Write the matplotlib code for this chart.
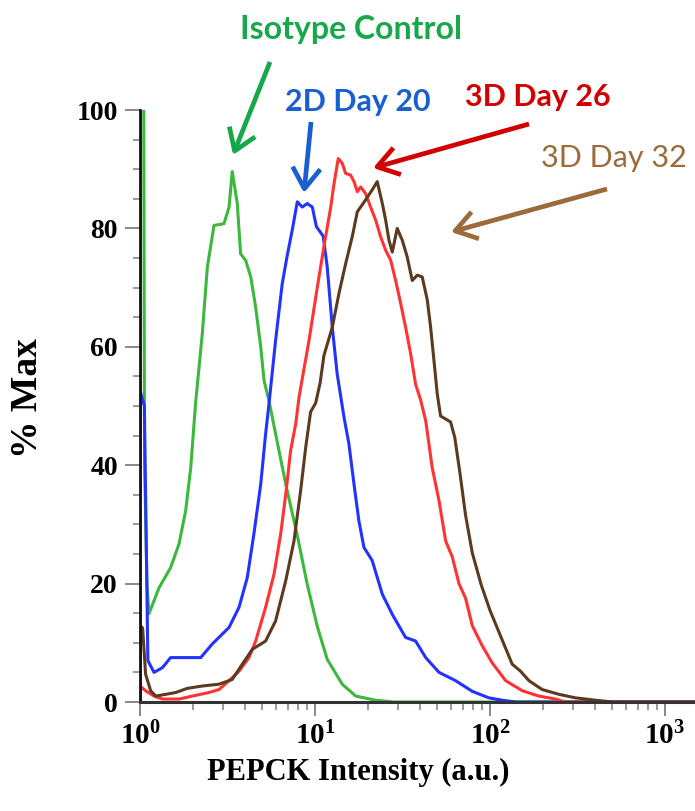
import numpy as np
import matplotlib
matplotlib.use("Agg")
import matplotlib.pyplot as plt
from matplotlib.ticker import FixedLocator, FixedFormatter, NullFormatter

# ---------------- data (x given as log10 of PEPCK intensity) ----------------
iso_log10 = [0.0, 0.0, 0.02, 0.026, 0.04, 0.051, 0.109, 0.175, 0.223, 0.261, 0.29, 0.318,
             0.356, 0.385, 0.423, 0.48, 0.509, 0.527, 0.556, 0.575, 0.604, 0.633,
             0.661, 0.69, 0.709, 0.737, 0.775, 0.833, 0.90, 0.955, 1.013, 1.07,
             1.156, 1.233, 1.347, 1.45, 3.2]
iso_pct = [0, 120, 120, 40, 20, 14.9, 19.3, 22.7, 26.7, 32.3, 39.6, 50.6,
           62.2, 73.5, 80.5, 80.8, 83.6, 89.6, 84.2, 75.7, 74.6, 71.8,
           66.7, 60.0, 54.3, 50.9, 45.3, 36.8, 28.0, 20.0, 12.8, 7.2,
           3.0, 1.0, 0.3, 0, 0]

d20_log10 = [0.0, 0.0, 0.025, 0.045, 0.08, 0.128, 0.175, 0.347, 0.413, 0.509, 0.566,
             0.613, 0.651, 0.69, 0.718, 0.737, 0.775, 0.813, 0.842, 0.87, 0.899,
             0.927, 0.956, 0.985, 1.008, 1.047, 1.07, 1.099, 1.127, 1.166, 1.194,
             1.223, 1.251, 1.28, 1.327, 1.385, 1.442, 1.518, 1.575, 1.633, 1.709,
             1.804, 1.899, 1.994, 2.07, 2.15, 3.2]
d20_pct = [0, 52.6, 50, 7, 5.0, 5.8, 7.5, 7.5, 9.8, 12.6, 16.0,
           21.0, 28.4, 36.8, 45.3, 50.3, 61.1, 70.7, 75.5, 79.7, 84.5,
           83.6, 84.2, 83.6, 80.3, 78.7, 73.5, 63.3, 55.4, 48.1, 43.6,
           36.8, 30.6, 26.1, 23.9, 18.2, 14.8, 10.9, 10.3, 7.5, 5.0,
           3.6, 1.8, 0.7, 0.3, 0, 0]

d26_log10 = [0.0, 0.032, 0.08, 0.128, 0.223, 0.299, 0.394, 0.451, 0.509, 0.566,
             0.623, 0.661, 0.718, 0.766, 0.804, 0.833, 0.861, 0.89, 0.909, 0.966,
             1.013, 1.051, 1.09, 1.109, 1.133, 1.156, 1.175, 1.204, 1.223, 1.242,
             1.261, 1.289, 1.318, 1.347, 1.375, 1.404, 1.433, 1.461, 1.49, 1.518,
             1.547, 1.575, 1.604, 1.633, 1.67, 1.709, 1.747, 1.785, 1.823, 1.861,
             1.899, 1.956, 2.013, 2.09, 2.185, 2.28, 2.375, 2.43, 3.2]
d26_pct = [2.7, 1.9, 1.0, 0.5, 0.5, 1.0, 1.6, 2.1, 3.6, 5.2,
           7.5, 10.3, 16.0, 21.6, 28.4, 35.1, 42.5, 47.0, 51.5, 61.1,
           70.0, 76.9, 83.6, 87.6, 91.8, 91.0, 89.3, 89.0, 87.9, 86.2,
           87.0, 85.9, 83.6, 81.4, 78.6, 76.3, 74.6, 71.2, 67.3, 63.3,
           58.8, 53.7, 51.0, 47.5, 39.6, 34.0, 27.2, 24.5, 20.0, 17.5,
           12.9, 9.5, 6.6, 3.6, 1.9, 1.0, 0.5, 0, 0]

d32_log10 = [0.0, 0.0, 0.015, 0.032, 0.061, 0.09, 0.147, 0.204, 0.27, 0.356, 0.451,
             0.527, 0.585, 0.642, 0.718, 0.775, 0.833, 0.88, 0.918, 0.947, 0.975,
             1.004, 1.03, 1.051, 1.099, 1.137, 1.175, 1.213, 1.242, 1.289, 1.327,
             1.356, 1.385, 1.404, 1.423, 1.442, 1.47, 1.499, 1.527, 1.556, 1.585,
             1.613, 1.642, 1.661, 1.68, 1.699, 1.718, 1.747, 1.775, 1.799, 1.828,
             1.861, 1.899, 1.95, 2.0, 2.06, 2.127, 2.175, 2.223, 2.299, 2.394,
             2.489, 2.604, 2.7, 3.2]
d32_pct = [0, 12.9, 12.5, 4.7, 1.9, 1.0, 1.3, 1.6, 2.3, 2.7, 3.0,
           3.8, 6.4, 8.9, 10.3, 13.7, 20.5, 27.2, 35.7, 43.0, 49.0,
           50.5, 54.0, 58.5, 63.3, 69.0, 74.0, 78.6, 82.8, 84.8, 86.5,
           87.9, 84.2, 81.4, 78.0, 76.0, 80.0, 78.0, 75.2, 71.2, 72.1,
           71.8, 67.9, 63.3, 57.7, 52.0, 48.3, 47.8, 47.3, 44.7, 38.8,
           31.5, 25.2, 19.8, 15.5, 11.2, 6.4, 5.2, 3.6, 2.1, 1.3,
           0.7, 0.3, 0, 0]

series_names = ["Isotype Control", "2D Day 20", "3D Day 26", "3D Day 32"]
line_colors = ["#3cb83c", "#2233ff", "#ff3333", "#5b3a1f"]
text_colors = ["#17a84a", "#1a5fd0", "#d20000", "#9c6b3c"]

y_ticks = [0, 20, 40, 60, 80, 100]
y_minor = [5, 10, 15, 25, 30, 35, 45, 50, 55, 65, 70, 75, 85, 90, 95]
x_ticks = [1, 10, 100, 1000]
x_ticklabels = [r"$10^{0}$", r"$10^{1}$", r"$10^{2}$", r"$10^{3}$"]

# ---------------- figure ----------------
plt.rcParams["mathtext.fontset"] = "custom"
plt.rcParams["mathtext.rm"] = "Liberation Serif:bold"
plt.rcParams["mathtext.bf"] = "Liberation Serif:bold"
plt.rcParams["mathtext.it"] = "Liberation Serif:bold"

W, H = 695, 811
fig = plt.figure(figsize=(W / 100, H / 100), dpi=100)
ax = fig.add_axes([140 / W, (H - 702) / H, (W - 140) / W, (702 - 110) / H])

series = [(iso_log10, iso_pct), (d20_log10, d20_pct), (d26_log10, d26_pct), (d32_log10, d32_pct)]
for (lx, yv), c in zip(series, line_colors):
    ax.plot(10 ** np.asarray(lx), yv, color=c, lw=2.2, solid_joinstyle="round")

ax.set_xscale("log")
ax.set_xlim(1, 10 ** 3.172)
ax.set_ylim(0, 100)

for s in ["top", "right"]:
    ax.spines[s].set_visible(False)
ax.spines["left"].set_color("#111111")
ax.spines["left"].set_linewidth(2.0)
ax.spines["bottom"].set_color("#333333")
ax.spines["bottom"].set_linewidth(2.2)

ax.yaxis.set_major_locator(FixedLocator(y_ticks))
ax.yaxis.set_minor_locator(FixedLocator(y_minor))
ax.xaxis.set_major_locator(FixedLocator(x_ticks))
ax.xaxis.set_major_formatter(FixedFormatter(x_ticklabels))
ax.xaxis.set_minor_formatter(NullFormatter())

ax.tick_params(axis="y", which="major", length=11, width=1.4, color="#888888",
               direction="out", pad=5, labelsize=20)
ax.tick_params(axis="y", which="minor", length=5, width=1.2, color="#888888", direction="out")
ax.tick_params(axis="x", which="major", length=10, width=1.4, color="#888888",
               direction="out", pad=4, labelsize=21)
ax.tick_params(axis="x", which="minor", length=6, width=1.2, color="#888888", direction="out")
for lab in ax.get_yticklabels():
    lab.set_fontfamily("Liberation Serif")
    lab.set_fontweight("bold")

fig.text(28 / W, 1 - 398 / H, "% Max", rotation=90, ha="center", va="center",
         fontsize=27, fontweight="bold", family="Liberation Serif")
fig.text(358 / W, 1 - 772 / H, "PEPCK Intensity (a.u.)", ha="center", va="center",
         fontsize=22, fontweight="bold", family="Liberation Serif")

# ---------------- annotations ----------------
label_pos = [(351, 30), (358, 102), (538, 97), (614, 158)]
label_size = [23, 22, 22, 22]
label_weight = ["bold", "bold", "bold", "normal"]
arrow_tail = [(270, 62), (311, 122), (529, 124), (607, 189)]
arrow_head = [(233, 155), (304, 193), (373, 168), (451, 232)]

for i in range(4):
    fig.text(label_pos[i][0] / W, 1 - label_pos[i][1] / H, series_names[i],
             ha="center", va="center", fontsize=label_size[i],
             fontweight=label_weight[i], color=text_colors[i], family="Lato")
    ax.annotate("", xy=(arrow_head[i][0] / W, 1 - arrow_head[i][1] / H),
                xytext=(arrow_tail[i][0] / W, 1 - arrow_tail[i][1] / H),
                xycoords="figure fraction", textcoords="figure fraction",
                annotation_clip=False,
                arrowprops=dict(arrowstyle="->,head_length=0.75,head_width=0.5",
                                lw=3.4, color=text_colors[i], mutation_scale=20,
                                shrinkA=0, shrinkB=0, capstyle="butt"))

fig.savefig("out.png", dpi=100)
